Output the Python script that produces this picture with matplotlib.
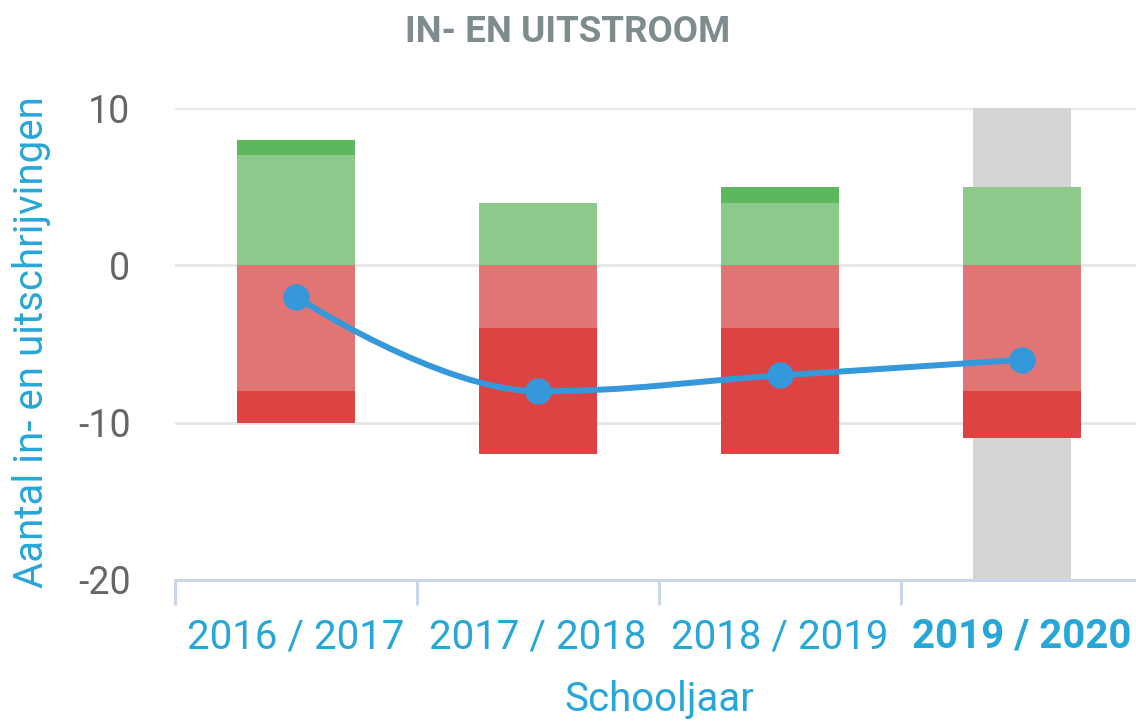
import numpy as np
import matplotlib.pyplot as plt
from matplotlib.path import Path
from matplotlib.patches import PathPatch

plt.rcParams['font.family'] = ['Roboto', 'DejaVu Sans']

# ----------------------------------------------------------
# DATA
# ----------------------------------------------------------
schooljaren = ["2016 / 2017", "2017 / 2018", "2018 / 2019", "2019 / 2020"]
instroom_a = [7, 4, 4, 5]       # lichtgroen
instroom_b = [1, 0, 1, 0]       # donkergroen
uitstroom_a = [-8, -4, -4, -8]  # lichtrood
uitstroom_b = [-2, -8, -8, -3]  # donkerrood
saldo = [-2, -8, -7, -6]
huidig = 3                      # geselecteerd schooljaar

C_LGREEN = "#8cc98b"
C_DGREEN = "#5cb85c"
C_LRED = "#e07573"
C_DRED = "#de4343"
C_LINE = "#3498db"
C_LABEL = "#27a6d8"
C_AXIS = "#ccd6eb"


def spline_path(xs, ys, smoothing=1.5):
    # bezier control points, highcharts-style spline
    denom = smoothing + 1
    n = len(xs)
    left = [(xs[i], ys[i]) for i in range(n)]
    right = [(xs[i], ys[i]) for i in range(n)]
    for i in range(1, n - 1):
        x, y = xs[i], ys[i]
        lx, ly = xs[i - 1], ys[i - 1]
        nx, ny = xs[i + 1], ys[i + 1]
        lcx = (smoothing * x + lx) / denom
        lcy = (smoothing * y + ly) / denom
        rcx = (smoothing * x + nx) / denom
        rcy = (smoothing * y + ny) / denom
        if rcx != lcx:
            corr = (rcy - lcy) * (rcx - x) / (rcx - lcx) + y - rcy
            lcy += corr
            rcy += corr
        if lcy > ly and lcy > y:
            lcy = max(ly, y)
            rcy = 2 * y - lcy
        elif lcy < ly and lcy < y:
            lcy = min(ly, y)
            rcy = 2 * y - lcy
        if rcy > ny and rcy > y:
            rcy = max(ny, y)
            lcy = 2 * y - rcy
        elif rcy < ny and rcy < y:
            rcy = min(ny, y)
            lcy = 2 * y - rcy
        left[i] = (lcx, lcy)
        right[i] = (rcx, rcy)
    verts = [(xs[0], ys[0])]
    codes = [Path.MOVETO]
    for i in range(1, n):
        verts += [right[i - 1], left[i], (xs[i], ys[i])]
        codes += [Path.CURVE4] * 3
    return Path(verts, codes)


# ----------------------------------------------------------
# PLOT
# ----------------------------------------------------------
fig = plt.figure(figsize=(11.36, 7.22), dpi=100)
ax = fig.add_axes([0.154, 0.197, 0.852, 0.653])

x = np.arange(len(schooljaren))

ax.bar(x[huidig], 30, bottom=-20, width=0.405, color="#d5d5d5", zorder=1)

w = 0.49
ax.bar(x, instroom_a, width=w, color=C_LGREEN, zorder=2)
ax.bar(x, instroom_b, bottom=instroom_a, width=w, color=C_DGREEN, zorder=2)
ax.bar(x, uitstroom_a, width=w, color=C_LRED, zorder=2)
ax.bar(x, uitstroom_b, bottom=uitstroom_a, width=w, color=C_DRED, zorder=2)

ax.add_patch(PathPatch(spline_path(list(x), saldo), fill=False,
                       edgecolor=C_LINE, linewidth=4.3, zorder=3,
                       capstyle="round"))
ax.plot(x, saldo, "o", color=C_LINE, markersize=18, zorder=4)

ax.set_xlim(-0.5, len(schooljaren) - 0.5)
ax.set_ylim(-20, 10)
ax.set_yticks([-20, -10, 0, 10])
ax.set_yticklabels(["-20", "-10", "0", "10"])
ax.grid(axis="y", color="#e6e6e6", linewidth=2, zorder=0)
ax.set_axisbelow(True)

for s in ["top", "right", "left"]:
    ax.spines[s].set_visible(False)
ax.spines["bottom"].set_color(C_AXIS)
ax.spines["bottom"].set_linewidth(2.2)
ax.spines["bottom"].set_zorder(5)

ax.tick_params(axis="y", length=0, labelsize=27, labelcolor="#666666", pad=32)
ax.set_xticks(np.arange(-0.5, len(schooljaren)), minor=False)
ax.set_xticklabels([""] * (len(schooljaren) + 1))
ax.tick_params(axis="x", which="major", length=18, width=2.2, color=C_AXIS)
ax.set_xticks(x, minor=True)
ax.set_xticklabels(schooljaren, minor=True)
ax.tick_params(axis="x", which="minor", length=0, labelsize=29,
               labelcolor=C_LABEL, pad=27)
for i, lbl in enumerate(ax.get_xticklabels(minor=True)):
    if i == huidig:
        lbl.set_fontweight("bold")

ax.set_xlabel("Schooljaar", fontsize=29, color=C_LABEL, va="center")
ax.xaxis.set_label_coords(0.5, -0.255)
ax.set_ylabel("Aantal in- en uitschrijvingen", fontsize=29, color=C_LABEL)
ax.yaxis.set_label_coords(-0.128, 0.504)

fig.text(0.5, 0.956, "IN- EN UITSTROOM", ha="center", va="center",
         fontsize=26.5, fontweight="bold", color="#7f8c8d")

fig.savefig("out.png", dpi=100)
